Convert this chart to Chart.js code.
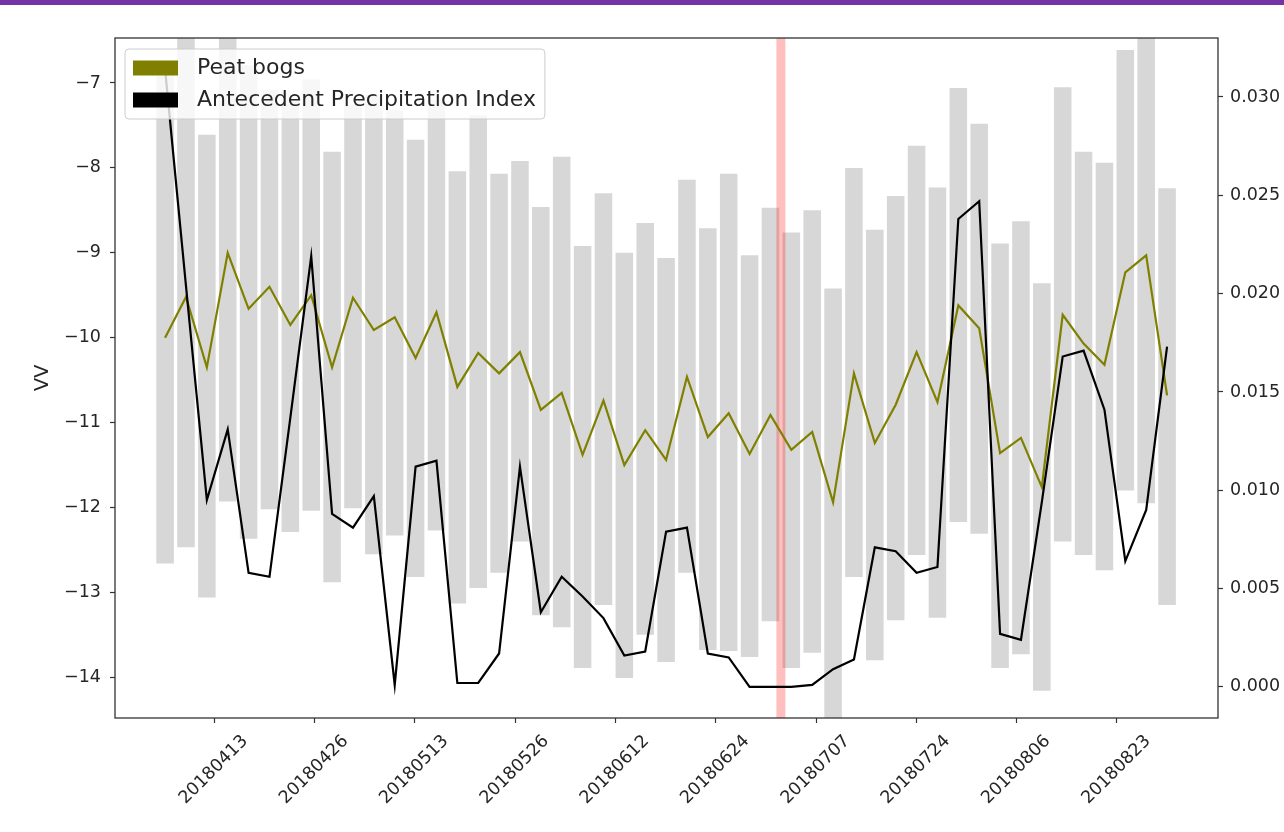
<!DOCTYPE html>
<html>
<head>
<meta charset="utf-8">
<title>VV over peat bogs and Antecedent Precipitation Index</title>
<script src="https://cdn.jsdelivr.net/npm/chart.js@4.4.1/dist/chart.umd.min.js"></script>
<style>
    html, body { margin: 0; padding: 0; background: #fff; }
    #top-bar { position: absolute; left: 0; top: 0; width: 1284px; height: 5px; background: #7434a6; z-index: 2; }
    #chart-box { position: relative; width: 1284px; height: 832px; }
</style>
</head>
<body>
<div id="top-bar"></div>
<div id="chart-box"><canvas id="vvChart"></canvas></div>
<script>
// Date tick labels and where they sit on the acquisition index axis
const tickPositions = [2.35, 7.16, 11.96, 16.77, 21.57, 26.38, 31.19, 35.99, 40.80, 45.60];
const tickLabels = ['20180413', '20180426', '20180513', '20180526', '20180612',
    '20180624', '20180707', '20180724', '20180806', '20180823'];
const vvTicks = [-14, -13, -12, -11, -10, -9, -8, -7];
const apiTicks = [0, 0.005, 0.010, 0.015, 0.020, 0.025, 0.030];

// Grey bars: VV spread per acquisition (low / high)
const vvLow = [-12.66, -12.47, -13.06, -11.93, -12.37, -12.02, -12.29, -12.04, -12.88, -12.01,
    -12.55, -12.33, -12.82, -12.27, -13.13, -12.95, -12.77, -12.40, -13.27, -13.41,
    -13.89, -13.15, -14.01, -13.50, -13.82, -12.77, -13.68, -13.69, -13.76, -13.34,
    -13.89, -13.71, -14.60, -12.82, -13.80, -13.33, -12.56, -13.30, -12.17, -12.31,
    -13.89, -13.73, -14.16, -12.40, -12.56, -12.74, -11.80, -11.95, -13.15];
const vvHigh = [-6.85, -6.40, -7.61, -6.40, -6.79, -7.08, -7.20, -6.96, -7.81, -7.26,
    -7.14, -7.32, -7.67, -7.20, -8.04, -7.38, -8.07, -7.92, -8.46, -7.87,
    -8.92, -8.30, -9.00, -8.65, -9.06, -8.14, -8.71, -8.07, -9.03, -8.47,
    -8.76, -8.50, -9.42, -8.00, -8.73, -8.33, -7.74, -8.23, -7.06, -7.48,
    -8.89, -8.63, -9.36, -7.05, -7.81, -7.94, -6.61, -6.40, -8.24];

// Mean VV over peat bogs
const peatBogs = [-10.00, -9.52, -10.35, -9.00, -9.66, -9.40, -9.85, -9.50, -10.35, -9.53,
    -9.91, -9.76, -10.24, -9.70, -10.58, -10.18, -10.42, -10.17, -10.85, -10.65,
    -11.38, -10.74, -11.50, -11.09, -11.44, -10.46, -11.17, -10.89, -11.37, -10.91,
    -11.32, -11.11, -11.94, -10.42, -11.24, -10.79, -10.17, -10.76, -9.62, -9.89,
    -11.36, -11.18, -11.76, -9.73, -10.07, -10.32, -9.23, -9.03, -10.68];

// Antecedent Precipitation Index (right axis)
const apiValues = [0.0314, 0.0204, 0.0095, 0.0131, 0.0058, 0.0056, 0.0137, 0.0219, 0.0088, 0.0081,
    0.0097, 0.0001, 0.0112, 0.0115, 0.0002, 0.0002, 0.0017, 0.0112, 0.0038, 0.0056,
    0.0046, 0.0035, 0.0016, 0.0018, 0.0079, 0.0081, 0.0017, 0.0015, 0.0000, 0.0000,
    0.0000, 0.0001, 0.0009, 0.0014, 0.0071, 0.0069, 0.0058, 0.0061, 0.0238, 0.0247,
    0.0027, 0.0024, 0.0094, 0.0168, 0.0171, 0.0141, 0.0064, 0.0090, 0.0173];

// Highlighted date (red band) and axis limits
const eventPosition = 29.5;
const indexRange = [-2.4, 50.44];
const vvRange = [-14.48, -6.47];
const apiRange = [-0.00158, 0.0330];

const FONT = 'DejaVu Sans';
const TEXT = '#262626';
const SPINE = '#333';

function minus(text) {
    return String(text).replace('-', '\u2212');
}

// Four spines like matplotlib
const spinesPlugin = {
    id: 'spines',
    afterDatasetsDraw(chart) {
        const a = chart.chartArea;
        const ctx = chart.ctx;
        ctx.save();
        ctx.strokeStyle = SPINE;
        ctx.lineWidth = 1.3;
        ctx.strokeRect(a.left, a.top, a.right - a.left, a.bottom - a.top);
        ctx.restore();
    }
};

// Legend box in the upper left corner of the axes
const legendPlugin = {
    id: 'boxLegend',
    afterDraw(chart) {
        const a = chart.chartArea;
        const ctx = chart.ctx;
        const items = [
            { label: 'Peat bogs', color: '#808000' },
            { label: 'Antecedent Precipitation Index', color: '#000000' }
        ];
        ctx.save();
        ctx.font = '22px "' + FONT + '"';
        const textW = Math.max(...items.map(it => ctx.measureText(it.label).width));
        const left = a.left + 10, top = a.top + 11;
        const textX = left + 72;
        const w = textX - left + textW + 9, h = 70;

        ctx.beginPath();
        ctx.roundRect(left, top, w, h, 4);
        ctx.fillStyle = 'rgba(255,255,255,0.8)';
        ctx.fill();
        ctx.strokeStyle = '#cccccc';
        ctx.lineWidth = 1;
        ctx.stroke();

        items.forEach((it, i) => {
            const cy = top + 19 + i * 32;
            ctx.fillStyle = it.color;
            ctx.fillRect(left + 8, cy - 7.5, 45, 15);
            ctx.fillStyle = TEXT;
            ctx.textBaseline = 'middle';
            ctx.fillText(it.label, textX, cy);
        });
        ctx.restore();
    }
};

function initializeChart() {
    const ctx = document.getElementById('vvChart').getContext('2d');
    const tickFont = { family: FONT, size: 17.5 };
    const gridOpts = { drawOnChartArea: false, drawTicks: true, tickLength: 5, tickColor: SPINE, tickWidth: 1.2 };

    window.vvChart = new Chart(ctx, {
        type: 'bar',
        data: {
            datasets: [{
                type: 'bar',
                label: 'VV range',
                data: vvLow.map((lo, i) => ({ x: i, y: [lo, vvHigh[i]] })),
                backgroundColor: '#d7d7d7',
                borderWidth: 0,
                barPercentage: 0.84,
                categoryPercentage: 1,
                xAxisID: 'x',
                yAxisID: 'y',
                order: 3
            }, {
                type: 'line',
                label: 'event',
                data: [{ x: eventPosition, y: vvRange[0] }, { x: eventPosition, y: vvRange[1] }],
                borderColor: 'rgba(255,0,0,0.25)',
                borderWidth: 9,
                pointRadius: 0,
                xAxisID: 'x',
                yAxisID: 'y',
                order: 2
            }, {
                type: 'line',
                label: 'Peat bogs',
                data: peatBogs.map((v, i) => ({ x: i, y: v })),
                borderColor: '#808000',
                borderWidth: 2.2,
                pointRadius: 0,
                tension: 0,
                xAxisID: 'x',
                yAxisID: 'y',
                order: 1
            }, {
                type: 'line',
                label: 'Antecedent Precipitation Index',
                data: apiValues.map((v, i) => ({ x: i, y: v })),
                borderColor: '#000000',
                borderWidth: 2.2,
                pointRadius: 0,
                tension: 0,
                xAxisID: 'x',
                yAxisID: 'y1',
                order: 0
            }]
        },
        options: {
            responsive: true,
            maintainAspectRatio: false,
            animation: false,
            layout: { padding: { top: 38, left: 0, right: 0, bottom: 0 } },
            plugins: { legend: { display: false }, tooltip: { enabled: false } },
            scales: {
                x: {
                    type: 'linear',
                    min: indexRange[0],
                    max: indexRange[1],
                    offset: false,
                    grid: Object.assign({ offset: false }, gridOpts),
                    border: { display: false },
                    afterBuildTicks: axis => { axis.ticks = tickPositions.map(v => ({ value: v })); },
                    afterFit: axis => { axis.height = 114; },
                    ticks: {
                        autoSkip: false,
                        minRotation: 45,
                        maxRotation: 45,
                        padding: 8,
                        labelOffset: 31,
                        font: tickFont,
                        color: TEXT,
                        callback: (value, index) => tickLabels[index]
                    }
                },
                y: {
                    type: 'linear',
                    position: 'left',
                    min: vvRange[0],
                    max: vvRange[1],
                    grid: gridOpts,
                    border: { display: false },
                    afterBuildTicks: axis => { axis.ticks = vvTicks.map(v => ({ value: v })); },
                    afterFit: axis => { axis.width = 115; },
                    title: {
                        display: true,
                        text: 'VV',
                        font: { family: FONT, size: 19.5 },
                        color: TEXT,
                        padding: { top: 31, bottom: 0 }
                    },
                    ticks: {
                        padding: 9,
                        font: tickFont,
                        color: TEXT,
                        callback: v => minus(v)
                    }
                },
                y1: {
                    type: 'linear',
                    position: 'right',
                    min: apiRange[0],
                    max: apiRange[1],
                    grid: gridOpts,
                    border: { display: false },
                    afterBuildTicks: axis => { axis.ticks = apiTicks.map(v => ({ value: v })); },
                    afterFit: axis => { axis.width = 66; },
                    ticks: {
                        padding: 7,
                        font: tickFont,
                        color: TEXT,
                        callback: v => v.toFixed(3)
                    }
                }
            }
        },
        plugins: [spinesPlugin, legendPlugin]
    });
}

initializeChart();
</script>
</body>
</html>
